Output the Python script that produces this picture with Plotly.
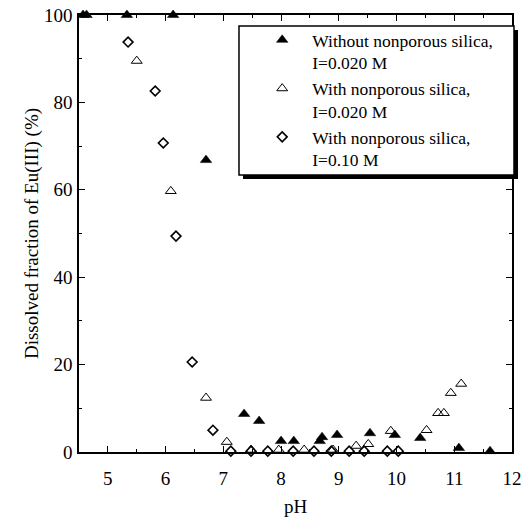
import plotly.graph_objects as go

# Without nonporous silica, I=0.020 M (filled triangles)
ph_without = [4.57, 4.63, 5.33, 6.13, 6.70, 7.36, 7.62, 8.00, 8.22, 8.67, 8.71, 8.97, 9.54, 9.97, 10.41, 11.08, 11.62]
frac_without = [100, 100, 100, 100, 66.8, 8.7, 7.1, 2.5, 2.5, 2.5, 3.4, 3.9, 4.3, 3.9, 3.2, 0.9, 0.2]

# With nonporous silica, I=0.020 M (open triangles)
ph_with_02 = [5.50, 6.09, 6.70, 7.06, 7.48, 7.96, 8.40, 8.90, 9.30, 9.51, 9.90, 10.52, 10.72, 10.82, 10.94, 11.12]
frac_with_02 = [89.5, 59.7, 12.4, 2.3, 0.5, 0.5, 0.5, 0.5, 1.4, 1.8, 4.8, 5.0, 8.9, 8.9, 13.5, 15.6]

# With nonporous silica, I=0.10 M (open diamonds)
ph_with_10 = [5.35, 5.82, 5.96, 6.18, 6.46, 6.82, 7.13, 7.48, 7.77, 8.21, 8.57, 8.87, 9.18, 9.44, 9.84, 10.03]
frac_with_10 = [93.8, 82.6, 70.7, 49.4, 20.6, 5.0, 0.2, 0.2, 0.2, 0.2, 0.2, 0.2, 0.2, 0.2, 0.2, 0.2]

names = ["Without nonporous silica,<br>I=0.020 M",
         "With nonporous silica,<br>I=0.020 M",
         "With nonporous silica,<br>I=0.10 M"]

FONT = "Times New Roman, Liberation Serif, DejaVu Serif, serif"

fig = go.Figure()
fig.add_trace(go.Scatter(x=ph_without, y=frac_without, mode="markers", name=names[0],
                         marker=dict(symbol="triangle-up", size=10, color="black",
                                     line=dict(width=0.5, color="black")),
                         cliponaxis=False))
fig.add_trace(go.Scatter(x=ph_with_02, y=frac_with_02, mode="markers", name=names[1],
                         marker=dict(symbol="triangle-up-open", size=9.5, color="black",
                                     line=dict(width=1, color="black")),
                         cliponaxis=False))
fig.add_trace(go.Scatter(x=ph_with_10, y=frac_with_10, mode="markers", name=names[2],
                         marker=dict(symbol="diamond-open", size=7.5, color="black",
                                     line=dict(width=1.6, color="black")),
                         cliponaxis=False))

axis_common = dict(showline=True, linecolor="black", linewidth=1.5, mirror="ticks",
                   ticks="inside", ticklen=6, tickwidth=1.2, tickcolor="black",
                   showgrid=False, zeroline=False, automargin=False,
                   tickfont=dict(family=FONT, size=19, color="black"))

fig.update_xaxes(range=[4.5, 12], dtick=1, tick0=0, ticklabelstandoff=8,
                 minor=dict(dtick=0.5, ticks="inside", ticklen=3.5, tickwidth=1.2, tickcolor="black"),
                 title=dict(text="pH", font=dict(family=FONT, size=19, color="black"), standoff=12),
                 **axis_common)
fig.update_yaxes(range=[0, 100], dtick=20, tick0=0, ticklabelstandoff=1,
                 minor=dict(dtick=10, ticks="inside", ticklen=3.5, tickwidth=1.2, tickcolor="black"),
                 title=dict(text="Dissolved fraction of Eu(III) (%)", font=dict(family=FONT, size=19, color="black"), standoff=0),
                 **axis_common)

# legend shadow and box
fig.add_shape(type="rect", xref="paper", yref="paper", layer="above",
              x0=0.3788, x1=1.0139, y0=0.6247, y1=0.9657,
              fillcolor="black", line=dict(width=0))
fig.add_shape(type="rect", xref="paper", yref="paper", layer="above",
              x0=0.3695, x1=1.0046, y0=0.6339, y1=0.9748,
              fillcolor="white", line=dict(width=1.5, color="black"))

fig.update_layout(
    width=526, height=519,
    margin=dict(l=79, r=14, t=15, b=67),
    paper_bgcolor="white", plot_bgcolor="white",
    font=dict(family=FONT, size=17.5, color="black"),
    legend=dict(x=0.40, y=0.984, xanchor="left", yanchor="top",
                bgcolor="rgba(0,0,0,0)", borderwidth=0,
                font=dict(family=FONT, size=17.5, color="black"),
                valign="top", tracegroupgap=0, itemwidth=50),
    showlegend=True,
)

fig.write_html("out.html")
